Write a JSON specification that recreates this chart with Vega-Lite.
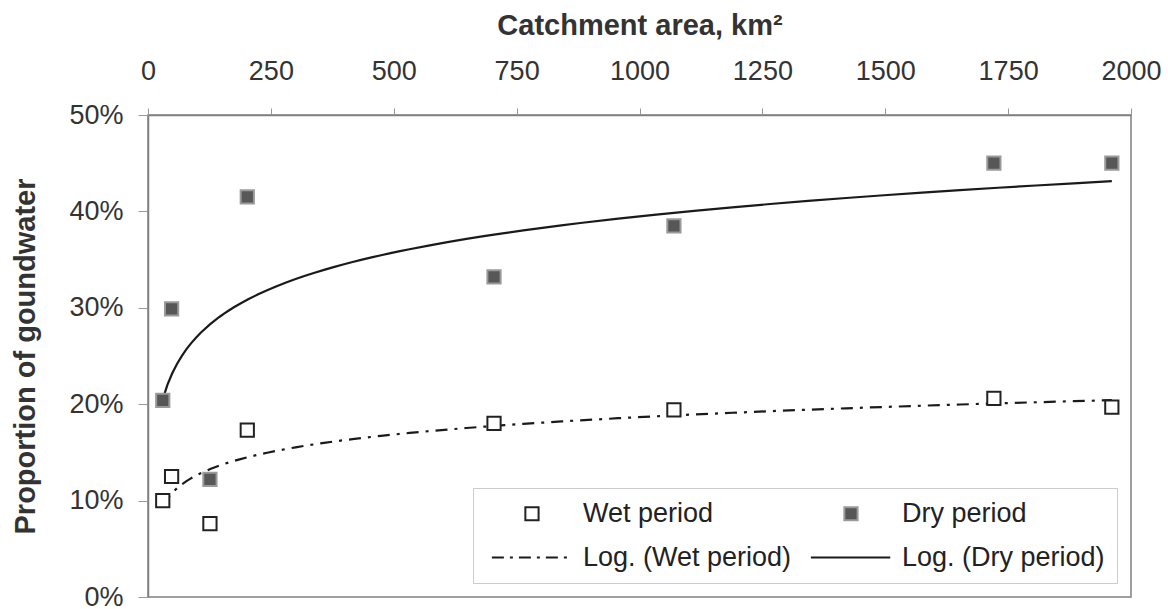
{
  "$schema": "https://vega.github.io/schema/vega-lite/v6.json",
  "width": 983,
  "height": 482,
  "autosize": "none",
  "padding": {"left": 148, "top": 115, "right": 37, "bottom": 12},
  "background": "white",
  "config": {
    "font": "Liberation Sans",
    "view": {"stroke": "#808080", "strokeWidth": 1.5},
    "axis": {"grid": false, "domainColor": "#808080", "domainWidth": 1.5, "tickColor": "#999999", "labelColor": "#333333", "titleColor": "#333333", "labelFont": "Liberation Sans", "titleFont": "Liberation Sans"},
    "legend": {
      "orient": "bottom-right", "offset": 14, "columns": 2, "direction": "horizontal",
      "labelFontSize": 27, "labelColor": "#222222", "labelOffset": 71, "labelLimit": 400,
      "symbolStrokeWidth": 2, "symbolSize": 175, "rowPadding": 16, "columnPadding": 12,
      "strokeColor": "#cccccc", "fillColor": "white", "padding": 12
    }
  },
  "data": {
    "values": [
      {"catchment": 30, "series": "Wet period", "value": 0.100},
      {"catchment": 48, "series": "Wet period", "value": 0.125},
      {"catchment": 126, "series": "Wet period", "value": 0.076},
      {"catchment": 202, "series": "Wet period", "value": 0.173},
      {"catchment": 704, "series": "Wet period", "value": 0.180},
      {"catchment": 1070, "series": "Wet period", "value": 0.194},
      {"catchment": 1721, "series": "Wet period", "value": 0.206},
      {"catchment": 1961, "series": "Wet period", "value": 0.197},
      {"catchment": 30, "series": "Dry period", "value": 0.204},
      {"catchment": 48, "series": "Dry period", "value": 0.299},
      {"catchment": 126, "series": "Dry period", "value": 0.122},
      {"catchment": 202, "series": "Dry period", "value": 0.415},
      {"catchment": 704, "series": "Dry period", "value": 0.332},
      {"catchment": 1070, "series": "Dry period", "value": 0.385},
      {"catchment": 1721, "series": "Dry period", "value": 0.450},
      {"catchment": 1961, "series": "Dry period", "value": 0.450}
    ]
  },
  "layer": [
    {
      "transform": [
        {"filter": "datum.series === 'Wet period'"},
        {"regression": "value", "on": "catchment", "method": "log"}
      ],
      "mark": {"type": "line", "color": "#1a1a1a", "strokeWidth": 2.2, "strokeDash": [12, 7, 3, 7]},
      "encoding": {
        "x": {"field": "catchment", "type": "quantitative"},
        "y": {"field": "value", "type": "quantitative"}
      }
    },
    {
      "transform": [
        {"filter": "datum.series === 'Dry period'"},
        {"regression": "value", "on": "catchment", "method": "log"}
      ],
      "mark": {"type": "line", "color": "#1a1a1a", "strokeWidth": 2.2},
      "encoding": {
        "x": {"field": "catchment", "type": "quantitative"},
        "y": {"field": "value", "type": "quantitative"}
      }
    },
    {
      "transform": [{"filter": "false"}],
      "mark": {"type": "point", "opacity": 1, "strokeWidth": 2},
      "encoding": {
        "x": {"field": "catchment", "type": "quantitative"},
        "y": {"field": "value", "type": "quantitative"},
        "shape": {
          "field": "series", "type": "nominal",
          "scale": {"domain": ["Wet period", "Dry period", "Log. (Wet period)", "Log. (Dry period)"], "range": ["M4.06,-1H6.06V1H4.06Z", "M4.06,-1H6.06V1H4.06Z", "M-1,0H11", "M-1,0H11"]},
          "legend": {"title": null}
        },
        "fill": {
          "field": "series", "type": "nominal",
          "scale": {"domain": ["Wet period", "Dry period", "Log. (Wet period)", "Log. (Dry period)"], "range": ["white", "#575757", "#1a1a1a", "#1a1a1a"]},
          "legend": {"title": null}
        },
        "stroke": {
          "field": "series", "type": "nominal",
          "scale": {"domain": ["Wet period", "Dry period", "Log. (Wet period)", "Log. (Dry period)"], "range": ["#222222", "#9a9a9a", "#1a1a1a", "#1a1a1a"]},
          "legend": {"title": null}
        },
        "strokeDash": {
          "field": "series", "type": "nominal",
          "scale": {"domain": ["Wet period", "Dry period", "Log. (Wet period)", "Log. (Dry period)"], "range": [[1, 0], [1, 0], [12, 6, 3, 6], [1, 0]]},
          "legend": {"title": null}
        }
      }
    },
    {
      "mark": {"type": "point", "shape": "square", "opacity": 1, "strokeWidth": 2, "size": 175},
      "encoding": {
        "x": {
          "field": "catchment", "type": "quantitative",
          "scale": {"domain": [0, 2000], "nice": false, "zero": false},
          "axis": {
            "orient": "top", "title": "Catchment area, km²", "format": "d",
            "values": [0, 250, 500, 750, 1000, 1250, 1500, 1750, 2000],
            "labelFlush": false,
            "labelFontSize": 27, "tickSize": 7, "labelPadding": 23,
            "titleFontSize": 29, "titleFontWeight": "bold", "titlePadding": 17
          }
        },
        "y": {
          "field": "value", "type": "quantitative",
          "scale": {"domain": [0, 0.5], "nice": false},
          "axis": {
            "title": "Proportion of goundwater",
            "values": [0, 0.1, 0.2, 0.3, 0.4, 0.5], "format": ".0%",
            "labelFontSize": 27, "tickSize": 10, "labelPadding": 15,
            "titleFontSize": 29, "titleFontWeight": "bold", "titlePadding": 28
          }
        },
        "fill": {"field": "series", "type": "nominal", "legend": {"title": null}},
        "stroke": {"field": "series", "type": "nominal", "legend": {"title": null}}
      }
    }
  ]
}
